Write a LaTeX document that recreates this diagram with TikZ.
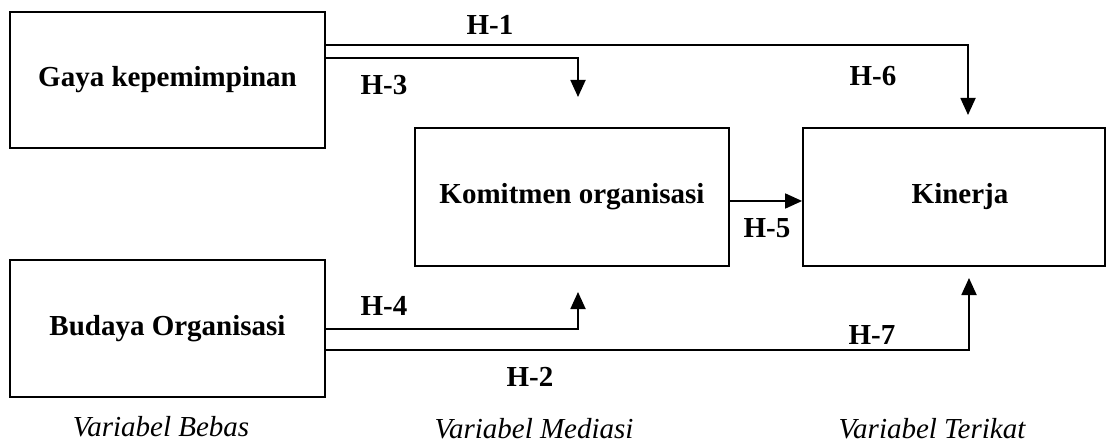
\documentclass[tikz,border=0pt]{standalone}
\usepackage{fontspec}
\setmainfont{Liberation Serif}
\usetikzlibrary{arrows.meta}
\begin{document}
\begin{tikzpicture}[x=1pt,y=-1pt,
  box/.style={draw, line width=1.8pt, inner sep=0pt,
    font=\bfseries\fontsize{29}{34}\selectfont},
  hyp/.style={anchor=base, inner sep=0pt,
    font=\bfseries\fontsize{29}{34}\selectfont},
  caption/.style={anchor=base, inner sep=0pt,
    font=\itshape\fontsize{29}{34}\selectfont},
  arrowlink/.style={line width=1.8pt, -{Triangle[length=17pt,width=15pt]}}]
\useasboundingbox (0,0) rectangle (1110,446);

% variables
\node[box, minimum width=315pt, minimum height=136pt] (g) at (167.5,80) {Gaya kepemimpinan};
\node[box, minimum width=315pt, minimum height=137pt] (b) at (167.5,328.5) {Budaya Organisasi};
\node[box, minimum width=314pt, minimum height=138pt] (m) at (572,197) {Komitmen organisasi};
\node[box, minimum width=302pt, minimum height=138pt] (k) at (954,197) {\hspace*{12pt}Kinerja};

% arrow tips
\coordinate (t1) at (968,115);
\coordinate (t3) at (578,97);
\coordinate (t4) at (578,292);
\coordinate (t2) at (969,278);

% paths
\draw[arrowlink] ([yshift=-34pt]g.north east) -| (t1);
\draw[arrowlink] ([yshift=-47pt]g.north east) -| (t3);
\draw[arrowlink] ([yshift=-70pt]b.north east) -| (t4);
\draw[arrowlink] ([yshift=-91pt]b.north east) -| (t2);
\draw[arrowlink] ([yshift=-4pt]m.east) -- ([yshift=-4pt]k.west);

% hypothesis labels
\node[hyp] (h1) at (490,35) {H-1};
\node[hyp] (h3) at (384,95) {H-3};
\node[hyp] (h6) at (873,86) {H-6};
\node[hyp] (h5) at (767,238) {H-5};
\node[hyp] (h4) at (384,315) {H-4};
\node[hyp] (h2) at (530,386) {H-2};
\node[hyp] (h7) at (872,344) {H-7};

% column captions
\node[caption] (c1) at (161,436) {Variabel Bebas};
\node[caption] (c2) at (534,438) {Variabel Mediasi};
\node[caption] (c3) at (932,438) {Variabel Terikat};
\end{tikzpicture}
\end{document}
